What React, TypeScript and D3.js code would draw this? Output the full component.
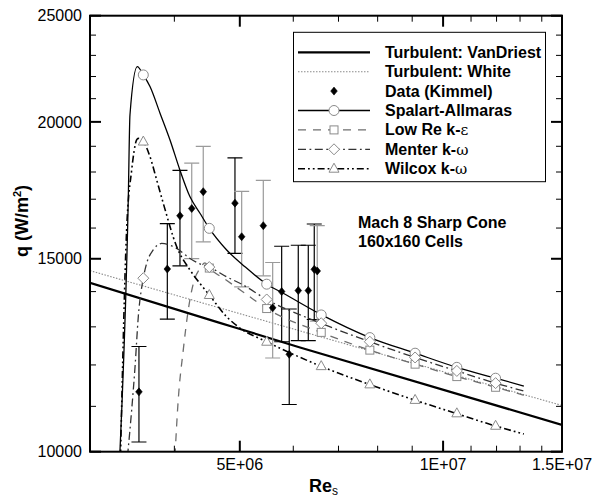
import React from 'react';
import * as d3 from 'd3';

const W = 594;
const H = 499;

// ---- axis ticks ----
const xTickMajor = [5e6, 1e7, 1.5e7];
const xTickLabels = ['5E+06', '1E+07', '1.5E+07'];
const xTickMinor = [4e6, 6e6, 7e6, 8e6, 9e6, 1.1e7, 1.2e7, 1.3e7, 1.4e7];
const yTickMajor = [10000, 15000, 20000, 25000];
const yTickLabels = ['10000', '15000', '20000', '25000'];
const yTickMinor = [11000, 12000, 13000, 14000, 16000, 17000, 18000, 19000, 21000, 22000, 23000, 24000];

// ---- correlations ----
const vanDriestX = [3e6, 4.67e6, 6.14e6, 1.5e7];
const vanDriestQ = [14260, 13110, 12450, 10580];
const whiteX = [3e6, 6.14e6, 1.5e7];
const whiteQ = [14630, 12890, 11020];

// ---- experimental data (Kimmel) ----
const kimmelX = [3.545e6, 3.905e6, 4.077e6, 4.244e6, 4.414e6, 4.918e6, 5.032e6, 5.417e6, 5.593e6, 5.767e6, 5.918e6, 6.103e6, 6.315e6, 6.445e6, 6.511e6];
const kimmelQ = [11340, 14680, 16420, 16670, 17270, 16860, 15710, 16080, 13530, 14000, 12270, 14030, 14030, 14670, 14620];
const kimmelErr = [0.1, 0.1, 0.1, 0.1, 0.1, 0.1, 0.1, 0.1, 0.1, 0.1, 0.1, 0.1, 0.1, 0.1, 0.1];
const kimmelGrey = [false, false, false, true, true, false, true, true, true, false, false, false, false, false, true];

// ---- CFD models ----
const saX = [3.32e6, 3.418e6, 3.438e6, 3.525e6, 3.598e6, 3.681e6, 3.809e6, 3.941e6, 4.077e6, 4.219e6, 4.365e6, 4.506e6, 4.781e6, 5.089e6, 5.48e6, 5.798e6, 6.61e6, 7.79e6, 9.09e6, 1.048e7, 1.196e7, 1.317e7];
const saQ = [9900, 16970, 20290, 22460, 22075, 21540, 20370, 19255, 18070, 17085, 16505, 15990, 15280, 14750, 14220, 13950, 13330, 12710, 12300, 11940, 11670, 11480];

const lowReX = [4.008e6, 4.053e6, 4.123e6, 4.194e6, 4.267e6, 4.365e6, 4.44e6, 4.506e6, 4.753e6, 5.089e6, 5.48e6, 6.594e6, 7.79e6, 9.09e6, 1.048e7, 1.196e7, 1.317e7];
const lowReQ = [9900, 11150, 12380, 13470, 14240, 14700, 14870, 14710, 14370, 13950, 13510, 12850, 12380, 12020, 11710, 11450, 11260];

const menterX = [3.409e6, 3.458e6, 3.498e6, 3.537e6, 3.598e6, 3.64e6, 3.722e6, 3.83e6, 4.031e6, 4.219e6, 4.365e6, 4.506e6, 4.781e6, 5.032e6, 5.48e6, 6.594e6, 7.79e6, 9.09e6, 1.048e7, 1.196e7, 1.317e7];
const menterQ = [9900, 10915, 11955, 13280, 14400, 14860, 15280, 15490, 15330, 15010, 14840, 14740, 14440, 14220, 13770, 13100, 12600, 12190, 11850, 11550, 11360];

const wilcoxX = [3.329e6, 3.399e6, 3.458e6, 3.517e6, 3.537e6, 3.598e6, 3.681e6, 3.766e6, 3.851e6, 4.031e6, 4.219e6, 4.365e6, 4.506e6, 4.781e6, 4.974e6, 5.48e6, 6.588e6, 7.773e6, 9.063e6, 1.044e7, 1.193e7, 1.317e7];
const wilcoxQ = [9900, 15930, 18070, 19255, 19320, 19190, 18590, 17700, 16860, 15390, 14650, 14240, 13900, 13280, 13000, 12600, 11970, 11520, 11150, 10840, 10560, 10380];

// marker stations (shared grid points)
const markX = [3.598e6, 4.506e6, 5.48e6, 6.6e6, 7.79e6, 9.09e6, 1.048e7, 1.196e7];
const saMark = [22075, 15990, 14220, 13330, 12710, 12300, 11940, 11670];
const lowReMark = [null, 14710, 13510, 12850, 12380, 12020, 11710, 11450];
const menterMark = [14400, 14740, 13770, 13100, 12600, 12190, 11850, 11550];
const wilcoxMark = [19190, 13900, 12600, 11970, 11520, 11150, 10840, 10560];

const FONT = "'Liberation Sans', Arial, Helvetica, sans-serif";
const GREY = '#8a8a8a';

const L = 90, R = 562, T = 15.7, B = 451.7;

const x = d3.scaleLog().domain([3e6, 1.5e7]).range([L, R]);
const y = d3.scaleLog().domain([10000, 25000]).range([B, T]);

function mk(xs: number[], qs: number[]) {
  return xs.map((v, i) => [v, qs[i]] as [number, number]);
}

const line = d3
  .line<[number, number]>()
  .x((d) => x(d[0]))
  .y((d) => y(d[1]))
  .curve(d3.curveMonotoneX);

function marker(type: string, cx: number, cy: number, key: string, color = GREY) {
  if (type === 'circle') return <circle key={key} cx={cx} cy={cy} r={5} fill="white" stroke={color} strokeWidth={1} />;
  if (type === 'square') return <rect key={key} x={cx - 4} y={cy - 4} width={8} height={8} fill="white" stroke={color} strokeWidth={1} />;
  if (type === 'diamond')
    return <path key={key} d={`M${cx},${cy - 5.5}L${cx + 5.5},${cy}L${cx},${cy + 5.5}L${cx - 5.5},${cy}Z`} fill="white" stroke={color} strokeWidth={1} />;
  if (type === 'triangle')
    return <path key={key} d={`M${cx},${cy - 5.5}L${cx + 5},${cy + 3.5}L${cx - 5},${cy + 3.5}Z`} fill="white" stroke={color} strokeWidth={1} />;
  if (type === 'filled')
    return <path key={key} d={`M${cx},${cy - 4}L${cx + 3.3},${cy}L${cx},${cy + 4}L${cx - 3.3},${cy}Z`} fill="black" stroke="black" strokeWidth={0.6} />;
  return null;
}

const models = [
  { name: 'sa', xs: saX, qs: saQ, marks: saMark, stroke: '#000', width: 1.3, dash: undefined as string | undefined, sym: 'circle' },
  { name: 'low', xs: lowReX, qs: lowReQ, marks: lowReMark, stroke: '#6e6e6e', width: 1.3, dash: '8,7', sym: 'square' },
  { name: 'men', xs: menterX, qs: menterQ, marks: menterMark, stroke: '#333', width: 1.3, dash: '8,3.5,1.8,3.5', sym: 'diamond' },
  { name: 'wil', xs: wilcoxX, qs: wilcoxQ, marks: wilcoxMark, stroke: '#000', width: 1.6, dash: '7,3,1.8,3,1.8,3', sym: 'triangle' },
];

const legendRows = [
  { label: 'Turbulent: VanDriest', type: 'vd' },
  { label: 'Turbulent: White', type: 'white' },
  { label: 'Data (Kimmel)', type: 'data' },
  { label: 'Spalart-Allmaras', type: 'sa' },
  { label: 'Low Re k-', greek: 'ε', type: 'low' },
  { label: 'Menter k-', greek: 'ω', type: 'men' },
  { label: 'Wilcox k-', greek: 'ω', type: 'wil' },
];

export default function App() {
  const legY0 = 52.3;
  const legDy = 19.4;
  return (
    <svg width={W} height={H} style={{ position: 'absolute', left: 0, top: 0, background: 'white' }} fontFamily={FONT}>
      <defs>
        <clipPath id="plot">
          <rect x={L} y={T} width={R - L} height={B - T} />
        </clipPath>
      </defs>
      <rect x={0} y={0} width={W} height={H} fill="white" />

      <g clipPath="url(#plot)">
        {/* correlations */}
        <path d={line(mk(whiteX, whiteQ)) || ''} fill="none" stroke={GREY} strokeWidth={1.1} strokeDasharray="1.5,1.5" />
        <path d={line(mk(vanDriestX, vanDriestQ)) || ''} fill="none" stroke="#000" strokeWidth={2.2} />

        {/* error bars */}
        {kimmelX.map((xv, i) => {
          const cx = x(xv);
          const top = y(kimmelQ[i] * (1 + kimmelErr[i]));
          const bot = y(kimmelQ[i] * (1 - kimmelErr[i]));
          const c = kimmelGrey[i] ? '#9a9a9a' : '#000';
          return (
            <g key={'eb' + i} stroke={c} strokeWidth={1.2}>
              <line x1={cx} x2={cx} y1={top} y2={bot} />
              <line x1={cx - 7.5} x2={cx + 7.5} y1={top} y2={top} />
              <line x1={cx - 7.5} x2={cx + 7.5} y1={bot} y2={bot} />
            </g>
          );
        })}

        {/* models */}
        {models.map((m) => (
          <path key={m.name} d={line(mk(m.xs, m.qs)) || ''} fill="none" stroke={m.stroke} strokeWidth={m.width} strokeDasharray={m.dash} />
        ))}
        {models.map((m) =>
          markX.map((xv, i) => (m.marks[i] == null ? null : marker(m.sym, x(xv), y(m.marks[i] as number), m.name + i)))
        )}

        {/* data points */}
        {kimmelX.map((xv, i) => marker('filled', x(xv), y(kimmelQ[i]), 'k' + i))}
      </g>

      {/* frame */}
      <rect x={L} y={T} width={R - L} height={B - T} fill="none" stroke="#000" strokeWidth={2} />

      {/* x ticks */}
      {xTickMajor.map((v, i) => (
        <g key={'xM' + i}>
          <line x1={x(v)} x2={x(v)} y1={B} y2={B - 11} stroke="#000" strokeWidth={2} />
          <line x1={x(v)} x2={x(v)} y1={T} y2={T + 11} stroke="#000" strokeWidth={2} />
          <text x={x(v)} y={469.5} textAnchor="middle" fontSize={16}>
            {xTickLabels[i]}
          </text>
        </g>
      ))}
      {xTickMinor.map((v, i) => (
        <g key={'xm' + i}>
          <line x1={x(v)} x2={x(v)} y1={B} y2={B - 6} stroke="#000" strokeWidth={1} />
          <line x1={x(v)} x2={x(v)} y1={T} y2={T + 6} stroke="#000" strokeWidth={1} />
        </g>
      ))}

      {/* y ticks */}
      {yTickMajor.map((v, i) => (
        <g key={'yM' + i}>
          <line x1={L} x2={L + 11} y1={y(v)} y2={y(v)} stroke="#000" strokeWidth={2} />
          <line x1={R} x2={R - 11} y1={y(v)} y2={y(v)} stroke="#000" strokeWidth={2} />
          <text x={82} y={y(v) + 5.7} textAnchor="end" fontSize={16}>
            {yTickLabels[i]}
          </text>
        </g>
      ))}
      {yTickMinor.map((v, i) => (
        <g key={'ym' + i}>
          <line x1={L} x2={L + 6} y1={y(v)} y2={y(v)} stroke="#000" strokeWidth={1} />
          <line x1={R} x2={R - 6} y1={y(v)} y2={y(v)} stroke="#000" strokeWidth={1} />
        </g>
      ))}

      {/* axis titles */}
      <text transform="translate(28,221) rotate(-90)" textAnchor="middle" fontSize={18} fontWeight="bold">
        q (W/m<tspan fontSize={11} dy={-7}>2</tspan>
        <tspan dy={7}>)</tspan>
      </text>
      <text x={309} y={492} fontSize={18} fontWeight="bold">
        Re<tspan fontSize={12} fontWeight="normal" dy={3}>s</tspan>
      </text>

      {/* annotation */}
      <text x={358} y={228} fontSize={16} fontWeight="bold">Mach 8 Sharp Cone</text>
      <text x={358} y={247} fontSize={16} fontWeight="bold">160x160 Cells</text>

      {/* legend */}
      <rect x={293.5} y={32.3} width={252} height={149.4} fill="white" stroke="#000" strokeWidth={1} />
      {legendRows.map((r, i) => {
        const ly = legY0 + i * legDy;
        let sample: React.ReactNode = null;
        if (r.type === 'vd') sample = <line x1={298} x2={370} y1={ly} y2={ly} stroke="#000" strokeWidth={2.2} />;
        else if (r.type === 'white')
          sample = <line x1={298} x2={370} y1={ly} y2={ly} stroke={GREY} strokeWidth={1.1} strokeDasharray="1.5,1.5" />;
        else if (r.type === 'data') sample = marker('filled', 334, ly, 'ld');
        else {
          const m = models.find((mm) => mm.name === r.type)!;
          sample = (
            <g>
              <line x1={298} x2={370} y1={ly} y2={ly} stroke={m.stroke} strokeWidth={m.width} strokeDasharray={m.dash} />
              {marker(m.sym, 334, ly, 'lm' + i)}
            </g>
          );
        }
        return (
          <g key={'leg' + i}>
            {sample}
            <text x={385} y={ly + 5.5} fontSize={16} fontWeight="bold">
              {r.label}
              {r.greek ? (
                <tspan fontFamily="'DejaVu Serif', 'Liberation Serif', serif" fontWeight="normal" fontSize={15}>
                  {r.greek}
                </tspan>
              ) : null}
            </text>
          </g>
        );
      })}
    </svg>
  );
}
